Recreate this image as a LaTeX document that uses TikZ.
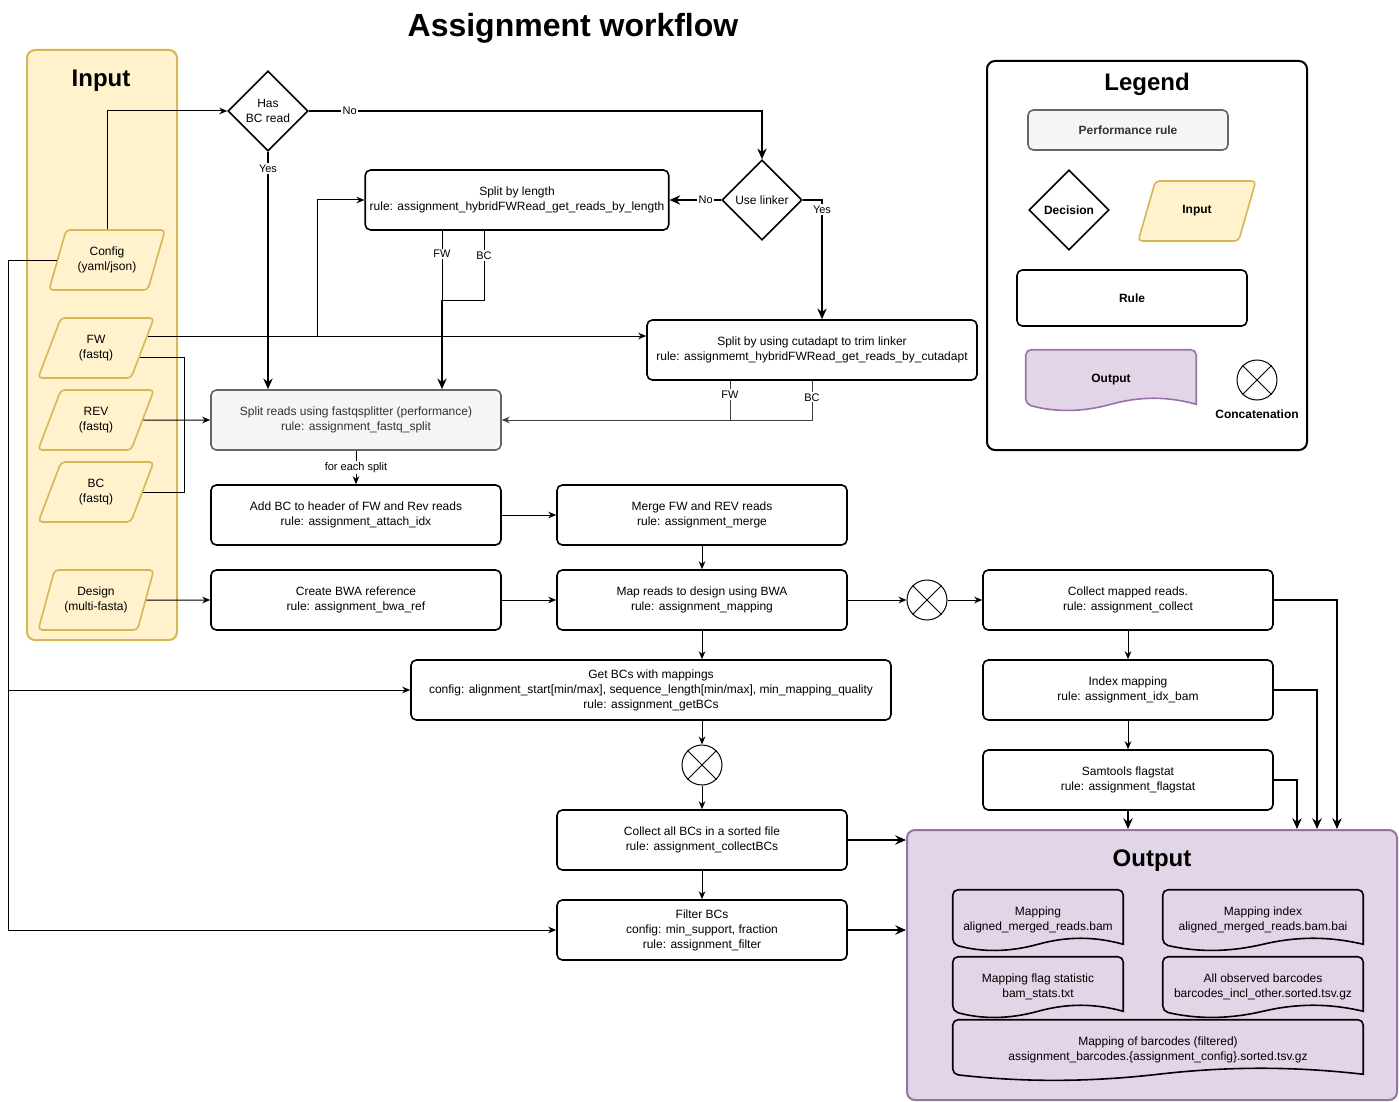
\documentclass[tikz,border=0pt]{standalone}
\usepackage{fontspec}
\setmainfont{Liberation Sans}
\usepackage{tikz}
\usetikzlibrary{shapes.geometric,arrows.meta,positioning,calc,backgrounds}
\definecolor{infill}{HTML}{FFF2CC}
\definecolor{inborder}{HTML}{D6B656}
\definecolor{perffill}{HTML}{F5F5F5}
\definecolor{perfborder}{HTML}{666666}
\definecolor{perftext}{HTML}{333333}
\definecolor{outfill}{HTML}{E1D5E7}
\definecolor{outborder}{HTML}{9673A6}
\newcommand{\rulefont}{\fontsize{9}{11.25}\selectfont}
\newcommand{\lblfont}{\fontsize{8.25}{9.5}\selectfont}

\begin{document}
\begin{tikzpicture}[
    x=0.75pt, y=-0.75pt,
    rule/.style={rectangle, draw, fill=white, rounded corners=4pt, line width=1.2pt, minimum width=217.5pt, minimum height=45pt, align=center, font=\rulefont},
    perf/.style={rule, fill=perffill, draw=perfborder, text=perftext},
    decision/.style={diamond, draw, fill=white, line width=1.2pt, minimum width=60pt, minimum height=60pt, inner sep=0pt, align=center, font=\rulefont},
    infile/.style={trapezium, trapezium left angle=68, trapezium right angle=112, trapezium stretches=true, draw=inborder, fill=infill, line width=1.2pt, rounded corners=3pt, minimum width=87pt, minimum height=45pt, align=center, font=\rulefont},
    outfile/.style={rectangle, minimum width=127.5pt, minimum height=45pt, align=center, font=\rulefont},
    concat/.style={circle, draw, fill=white, line width=0.75pt, minimum size=30pt, inner sep=0pt},
    panel/.style={rectangle, rounded corners=6pt, line width=1.5pt},
    header/.style={font=\fontsize{18}{20}\selectfont\bfseries},
    lbl/.style={fill=white, inner sep=1pt, font=\lblfont},
    wire/.style={line width=0.75pt},
    arrow/.style={-{Stealth[length=6pt,width=5pt]}, line width=0.75pt},
    bigarrow/.style={-{Stealth[length=8pt,width=7pt]}, line width=1.5pt}
]
\useasboundingbox (0,0) rectangle (1399,1102);

\node[font=\fontsize{24}{28}\selectfont\bfseries] (title) at (573,28) {Assignment workflow};

% Input files
\node[panel, draw=inborder, fill=infill, minimum width=112.5pt, minimum height=442.5pt] (inputbox) at (102,345) {};
\node[header] (inputtitle) at (101,81) {Input};
\node[infile] (config) at (107,260) {Config\\(yaml/json)};
\node[infile] (fw) at (96,348) {FW\\(fastq)};
\node[infile] (rev) at (96,420) {REV\\(fastq)};
\node[infile] (bc) at (96,492) {BC\\(fastq)};
\node[infile] (design) at (96,600) {Design\\(multi-fasta)};

% Decisions
\node[decision] (hasbc) at (268,111) {Has\\BC read};
\node[decision] (uselinker) at (762,200) {Use linker};

% Rules
\node[rule, minimum width=225pt] (splitlen) at (517,200) {Split by length\\rule: assignment\_hybridFWRead\_get\_reads\_by\_length};
\node[rule, minimum width=247.5pt] (cutadapt) at (812,350) {Split by using cutadapt to trim linker\\rule: assignmemt\_hybridFWRead\_get\_reads\_by\_cutadapt};
\node[perf] (splitreads) at (356,420) {Split reads using fastqsplitter (performance)\\rule: assignment\_fastq\_split};
\node[rule] (addbc) at (356,515) {Add BC to header of FW and Rev reads\\rule: assignment\_attach\_idx};
\node[rule] (merge) at (702,515) {Merge FW and REV reads\\rule: assignment\_merge};
\node[rule] (bwaref) at (356,600) {Create BWA reference\\rule: assignment\_bwa\_ref};
\node[rule] (mapping) at (702,600) {Map reads to design using BWA\\rule: assignment\_mapping};
\node[concat] (catmap) at (927,600) {};
\node[rule] (collect) at (1128,600) {Collect mapped reads.\\rule: assignment\_collect};
\node[rule, minimum width=360pt] (getbcs) at (651,690) {Get BCs with mappings\\config: alignment\_start[min/max], sequence\_length[min/max], min\_mapping\_quality\\rule: assignment\_getBCs};
\node[concat] (catbc) at (702,765) {};
\node[rule] (idxbam) at (1128,690) {Index mapping\\rule: assignment\_idx\_bam};
\node[rule] (flagstat) at (1128,780) {Samtools flagstat\\rule: assignment\_flagstat};
\node[rule] (collectbcs) at (702,840) {Collect all BCs in a sorted file\\rule: assignment\_collectBCs};
\node[rule] (filter) at (702,930) {Filter BCs\\config: min\_support, fraction\\rule: assignment\_filter};

% Output files
\node[header] (outtitle) at (1152,861) {Output};
\node[outfile] (outbam) at (1038,920) {Mapping\\aligned\_merged\_reads.bam};
\node[outfile, minimum width=150pt] (outbai) at (1263,920) {Mapping index\\aligned\_merged\_reads.bam.bai};
\node[outfile] (outstat) at (1038,987) {Mapping flag statistic\\bam\_stats.txt};
\node[outfile, minimum width=150pt] (outall) at (1263,987) {All observed barcodes\\barcodes\_incl\_other.sorted.tsv.gz};
\node[outfile, minimum width=307.5pt] (outbc) at (1158,1050) {Mapping of barcodes (filtered)\\assignment\_barcodes.\{assignment\_config\}.sorted.tsv.gz};

% Legend
\node[panel, draw=black, minimum width=240pt, minimum height=291.75pt] (legendbox) at (1147,255.5) {};
\node[header] (legendtitle) at (1147,84) {Legend};
\node[perf, minimum width=150pt, minimum height=30pt, font=\rulefont\bfseries] (legperf) at (1128,130) {Performance rule};
\node[decision, font=\rulefont\bfseries] (legdec) at (1069,210) {Decision};
\node[infile, minimum width=88.5pt, font=\rulefont\bfseries] (leginput) at (1197,211) {Input};
\node[rule, minimum width=172.5pt, minimum height=42pt, font=\rulefont\bfseries] (legrule) at (1132,298) {Rule};
\node[outfile, font=\rulefont\bfseries] (legout) at (1111,380) {Output};
\node[concat] (legcat) at (1257,380) {};
\node[font=\rulefont\bfseries] (legcatlbl) at (1257,414) {Concatenation};

\begin{scope}[on background layer]
\node[panel, draw=outborder, fill=outfill, minimum width=367.5pt, minimum height=202.5pt] (outbox) at (1152,965) {};
\foreach \docname/\doccol in {legout/outborder, outbam/black, outbai/black, outstat/black, outall/black, outbc/black}
  \draw[draw=\doccol, fill=outfill, line width=1.2pt, rounded corners=4pt]
    ($(\docname.south east)+(0,-6)$) -- (\docname.north east) -- (\docname.north west) -- ($(\docname.south west)+(0,-6)$)
    [sharp corners] .. controls ($(\docname.south west)!0.17!(\docname.south east)+(0,2)$) and ($(\docname.south west)!0.33!(\docname.south east)+(0,2)$) .. ($(\docname.south)+(0,-6)$)
    .. controls ($(\docname.south west)!0.67!(\docname.south east)+(0,-14)$) and ($(\docname.south west)!0.83!(\docname.south east)+(0,-14)$) .. cycle;
\end{scope}

\foreach \cat in {catmap, catbc, legcat}
  \draw[wire] (\cat.45) -- (\cat.225) (\cat.135) -- (\cat.315);

% Connections from the inputs
\coordinate (cfgjoin) at (8,690);
\coordinate (fwbranch) at (317,336);
\coordinate (injoin) at (184,420);
\draw[arrow] (config.north) |- (hasbc.west);
\draw[arrow] (config.west) -| (cfgjoin) -- (getbcs.west);
\draw[arrow] (cfgjoin) |- (filter.west);
\draw[arrow] (fw.13) -- (fw.13 -| cutadapt.west);
\draw[arrow] (fwbranch) |- (splitlen.west);
\draw[wire] (fw.348) -| (injoin);
\draw[wire] (bc.east) -| (injoin);
\draw[arrow] (rev.east) -- (splitreads.west);
\draw[arrow] (design.east) -- (bwaref.west);

% Decisions
\draw[bigarrow] (hasbc.east) -| node[lbl, pos=0.045]{No} (uselinker.north);
\draw[bigarrow] (hasbc.south) -- node[lbl, pos=0.07]{Yes} (hasbc.south |- splitreads.north);
\draw[bigarrow] (uselinker.west) -- node[lbl, pos=0.3]{No} (splitlen.east);
\draw[bigarrow] (uselinker.east) -| node[lbl, pos=0.54]{Yes} ([xshift=7.5pt]cutadapt.north);

% Split outputs
\coordinate (lenjoin) at (442,300);
\coordinate (cutjoin) at (730,420);
\draw[wire] ([xshift=-56.25pt]splitlen.south) -- node[lbl, pos=0.33]{FW} (lenjoin);
\draw[wire] ([xshift=-24.75pt]splitlen.south) |- node[lbl, pos=0.18]{BC} (lenjoin);
\draw[bigarrow] (lenjoin) -- (lenjoin |- splitreads.north);
\draw[wire, black!75] ([xshift=-61.5pt]cutadapt.south) -- node[lbl, pos=0.35, text=black]{FW} (cutjoin);
\draw[wire, black!75] (cutadapt.south) |- node[lbl, pos=0.21, text=black]{BC} (cutjoin);
\draw[arrow, black!75] (cutjoin) -- (splitreads.east);

% Main pipeline
\draw[arrow] (splitreads) -- node[lbl]{for each split} (addbc);
\draw[arrow] (addbc) -- (merge);
\draw[arrow] (merge) -- (mapping);
\draw[arrow] (bwaref) -- (mapping);
\draw[arrow] (mapping) -- (catmap);
\draw[arrow] (catmap) -- (collect);
\draw[arrow] (mapping.south) -- (mapping.south |- getbcs.north);
\draw[arrow] (mapping.south |- getbcs.south) -- (catbc);
\draw[arrow] (catbc) -- (collectbcs);
\draw[arrow] (collectbcs) -- (filter);
\draw[arrow] (collect) -- (idxbam);
\draw[arrow] (idxbam) -- (flagstat);

% Into the output
\draw[bigarrow] (collect.east) -| ([xshift=138.75pt]outbox.north);
\draw[bigarrow] (idxbam.east) -| ([xshift=123.75pt]outbox.north);
\draw[bigarrow] (flagstat.east) -| ([xshift=108.75pt]outbox.north);
\draw[bigarrow] (flagstat.south) -- (flagstat.south |- outbox.north);
\draw[bigarrow] (collectbcs.east) -- (collectbcs.east -| outbox.west);
\draw[bigarrow] (filter.east) -- (filter.east -| outbox.west);

\end{tikzpicture}
\end{document}
